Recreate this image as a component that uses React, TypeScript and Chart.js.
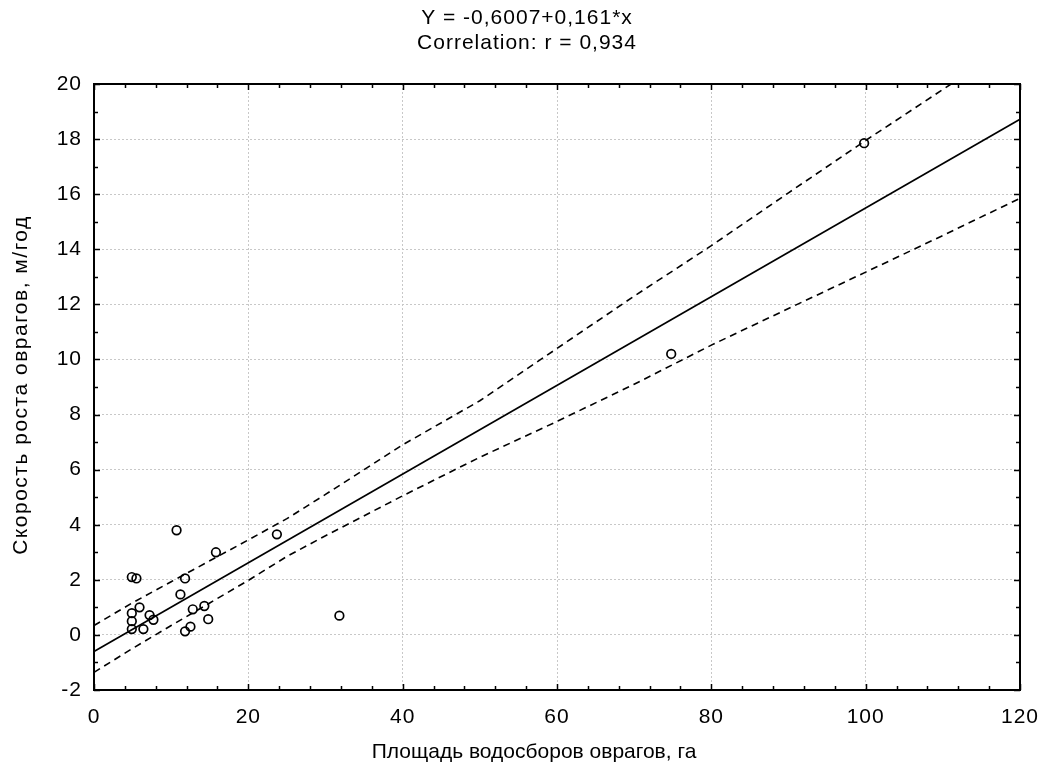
import React, { useEffect, useRef } from "react";
import { Chart, registerables } from "chart.js";

Chart.register(...registerables);

// Observed data: catchment area (ha) vs gully growth rate (m/year)
const areaHa = [10.7, 4.9, 5.5, 11.8, 15.8, 23.7, 11.2, 5.9, 4.9, 4.9, 4.9, 7.2, 7.7, 6.4, 12.8, 14.3, 14.8, 12.5, 11.8, 31.8, 74.8, 99.8];
const growthRate = [3.8, 2.1, 2.05, 2.05, 3.0, 3.65, 1.47, 1.0, 0.79, 0.5, 0.21, 0.72, 0.55, 0.21, 0.93, 1.05, 0.57, 0.3, 0.13, 0.7, 10.2, 17.85];

// Regression line Y = -0.6007 + 0.161 x (end points)
const fitX = [0, 120];
const fitY = [-0.6007, 18.7193];

// 95% confidence band
const bandX = [0, 5, 10, 15, 20, 25, 30, 40, 50, 60, 70, 80, 90, 100, 110, 120];
const upperY = [0.34, 1.17, 1.93, 2.69, 3.45, 4.22, 5.1, 6.9, 8.5, 10.4, 12.3, 14.13, 16.05, 17.95, 19.8, 21.65];
const lowerY = [-1.36, -0.49, 0.34, 1.16, 1.98, 2.85, 3.6, 5.05, 6.45, 7.75, 9.1, 10.52, 11.85, 13.17, 14.5, 15.85];

const titleLines = ["Y = -0,6007+0,161*x", "Correlation: r = 0,934"];
const xTitle = "Площадь водосборов оврагов, га";
const yTitle = "Скорость роста оврагов, м/год";

const xMin = 0, xMax = 120, xStep = 20, xMinorStep = 4;
const yMin = -2, yMax = 20, yStep = 2, yMinorStep = 1;

const FONT = "'Liberation Sans', Arial, sans-serif";

const framePlugin = {
  id: "frame",
  beforeDraw(chart: any) {
    chart.ctx.letterSpacing = "1px";
  },
  afterDatasetsDraw(chart: any) {
    const { ctx, chartArea, scales } = chart;
    const { left, right, top, bottom } = chartArea;
    const x = scales.x;
    const y = scales.y;
    ctx.save();
    ctx.strokeStyle = "#000";
    ctx.lineWidth = 1.5;
    ctx.beginPath();
    for (let v = xMin; v <= xMax + 1e-9; v += xMinorStep) {
      const px = Math.round(x.getPixelForValue(v)) + 0.5;
      const len = Math.abs(v % xStep) < 1e-9 ? 6 : 4;
      ctx.moveTo(px, bottom);
      ctx.lineTo(px, bottom - len);
      ctx.moveTo(px, top);
      ctx.lineTo(px, top + len);
    }
    for (let v = yMin; v <= yMax + 1e-9; v += yMinorStep) {
      const py = Math.round(y.getPixelForValue(v)) + 0.5;
      const len = Math.abs((v - yMin) % yStep) < 1e-9 ? 6 : 4;
      ctx.moveTo(left, py);
      ctx.lineTo(left + len, py);
      ctx.moveTo(right, py);
      ctx.lineTo(right - len, py);
    }
    ctx.stroke();
    ctx.lineWidth = 2;
    ctx.strokeRect(left, top, right - left, bottom - top);
    ctx.restore();
  },
  afterDraw(chart: any) {
    const { ctx, chartArea } = chart;
    ctx.save();
    ctx.fillStyle = "#000";
    ctx.textAlign = "center";
    ctx.textBaseline = "middle";
    // chart title
    ctx.font = `21px ${FONT}`;
    ctx.letterSpacing = "1px";
    ctx.fillText(titleLines[0], 527, 18);
    ctx.fillText(titleLines[1], 527, 43);
    // x axis title
    ctx.font = `21px ${FONT}`;
    ctx.letterSpacing = "0px";
    ctx.fillText(xTitle, 534, 752);
    // y axis title
    ctx.translate(21, (chartArea.top + chartArea.bottom) / 2 - 2);
    ctx.rotate(-Math.PI / 2);
    ctx.font = `21px ${FONT}`;
    ctx.letterSpacing = "1.5px";
    ctx.fillText(yTitle, 0, 0);
    ctx.restore();
    ctx.letterSpacing = "0px";
  },
};

export default function App() {
  const canvasRef = useRef<HTMLCanvasElement | null>(null);

  useEffect(() => {
    document.body.style.margin = "0";
    const canvas = canvasRef.current;
    if (!canvas) return;
    const pts = areaHa.map((a, i) => ({ x: a, y: growthRate[i] }));
    const fit = fitX.map((a, i) => ({ x: a, y: fitY[i] }));
    const up = bandX.map((a, i) => ({ x: a, y: upperY[i] }));
    const lo = bandX.map((a, i) => ({ x: a, y: lowerY[i] }));

    const chart = new Chart(canvas, {
      type: "scatter",
      data: {
        datasets: [
          {
            label: "data",
            data: pts,
            pointStyle: "circle",
            pointRadius: 4.3,
            pointBorderWidth: 1.7,
            pointBorderColor: "#000",
            pointBackgroundColor: "rgba(255,255,255,0)",
            showLine: false,
          },
          {
            label: "fit",
            data: fit,
            showLine: true,
            borderColor: "#000",
            borderWidth: 1.6,
            pointRadius: 0,
            tension: 0,
          },
          {
            label: "upper",
            data: up,
            showLine: true,
            borderColor: "#000",
            borderWidth: 1.6,
            borderDash: [7, 5],
            pointRadius: 0,
            tension: 0,
          },
          {
            label: "lower",
            data: lo,
            showLine: true,
            borderColor: "#000",
            borderWidth: 1.6,
            borderDash: [7, 5],
            pointRadius: 0,
            tension: 0,
          },
        ],
      },
      options: {
        animation: false,
        responsive: false,
        maintainAspectRatio: false,
        layout: { padding: { left: 0, right: 20, top: 84, bottom: 0 } },
        plugins: {
          legend: { display: false },
          tooltip: { enabled: false },
          title: { display: false },
        },
        scales: {
          x: {
            type: "linear",
            min: xMin,
            max: xMax,
            afterFit: (s: any) => { s.height = 83; s.paddingLeft = 0; s.paddingRight = 0; },
            ticks: { stepSize: xStep, color: "#000", padding: 15, font: { family: FONT, size: 21 } },
            grid: { color: "#c8c8c8", lineWidth: 1, drawTicks: false },
            border: { display: false, dash: [2, 2] },
          },
          y: {
            type: "linear",
            min: yMin,
            max: yMax,
            afterFit: (s: any) => { s.width = 94; s.paddingTop = 0; s.paddingBottom = 0; },
            ticks: { stepSize: yStep, color: "#000", padding: 12, font: { family: FONT, size: 21 } },
            grid: { color: "#c8c8c8", lineWidth: 1, drawTicks: false },
            border: { display: false, dash: [2, 2] },
          },
        },
      },
      plugins: [framePlugin],
    });
    return () => chart.destroy();
  }, []);

  return (
    <div style={{ width: 1040, height: 773, background: "#fff" }}>
      <canvas ref={canvasRef} width={1040} height={773} style={{ display: "block" }} />
    </div>
  );
}
